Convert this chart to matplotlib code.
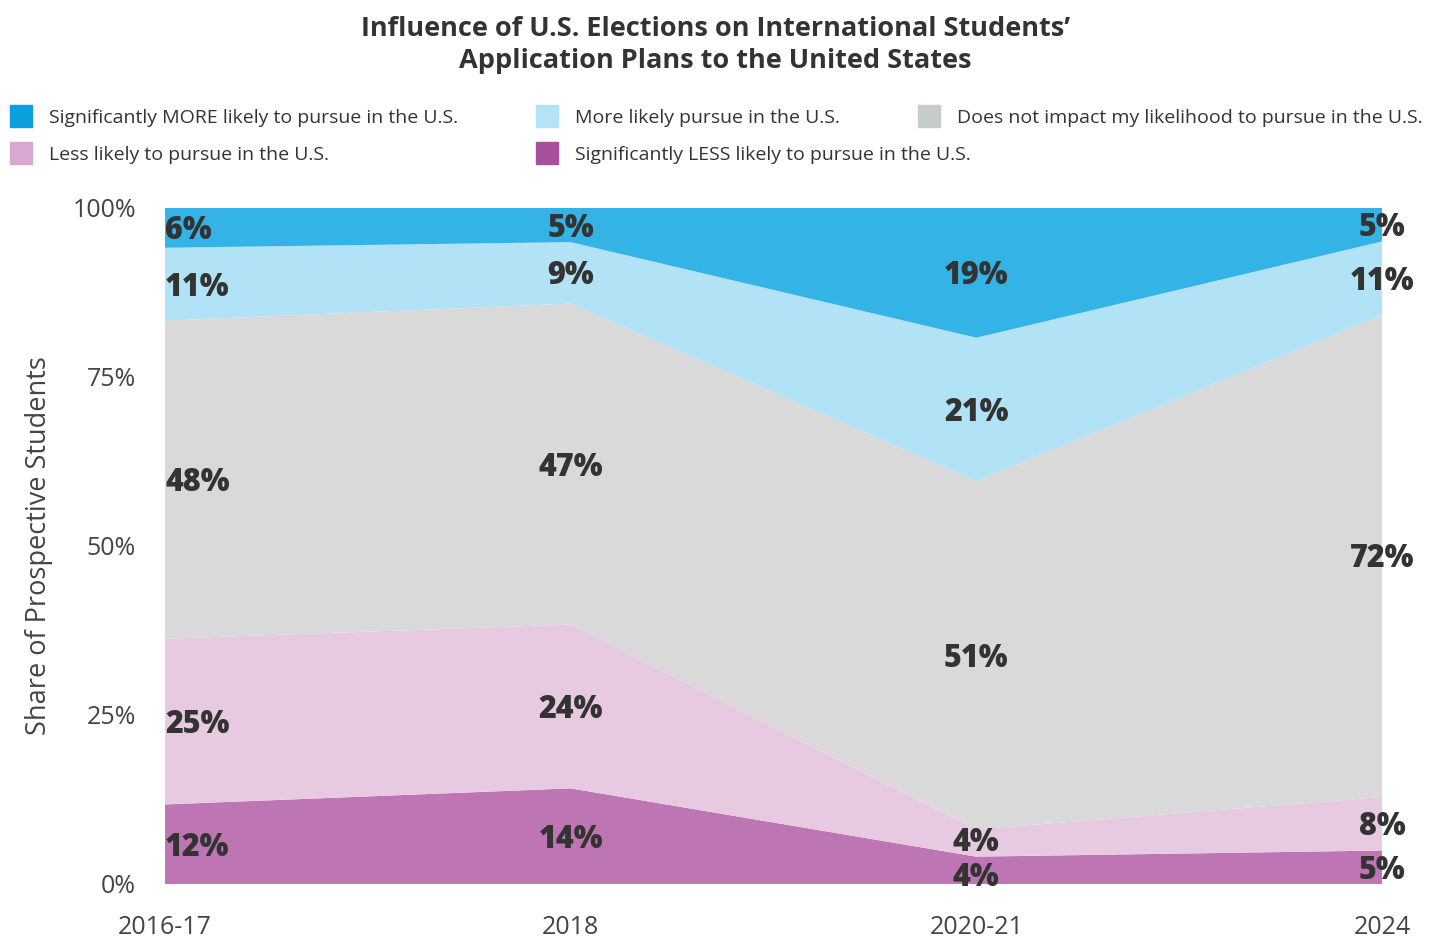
import numpy as np
import matplotlib
matplotlib.use("Agg")
import matplotlib.pyplot as plt
from matplotlib.patches import Rectangle

plt.rcParams["font.family"] = ["Open Sans", "DejaVu Sans"]

years = ["2016-17", "2018", "2020-21", "2024"]
sig_less = [12, 14, 4, 5]
less = [25, 24, 4, 8]
no_impact = [48, 47, 51, 72]
more = [11, 9, 21, 11]
sig_more = [6, 5, 19, 5]

series_names = [
    "Significantly LESS likely to pursue in the U.S.",
    "Less likely to pursue in the U.S.",
    "Does not impact my likelihood to pursue in the U.S.",
    "More likely pursue in the U.S.",
    "Significantly MORE likely to pursue in the U.S.",
]
area_colors = ["#BD75B3", "#E8C9E2", "#D9D9D9", "#B2E2F5", "#33B3E6"]
legend_colors = ["#A8509E", "#D9A8D0", "#C5CCCA", "#B3E3F5", "#0AA0DE"]

values = np.array([sig_less, less, no_impact, more, sig_more], dtype=float)
shares = values / values.sum(axis=0)
x = np.arange(len(years))

fig = plt.figure(figsize=(14.4, 9.39), dpi=100)
ax = fig.add_axes([0.1146, 0.0586, 0.8451, 0.7199])
ax.stackplot(x, shares, colors=area_colors, linewidth=0)
ax.set_xlim(x[0], x[-1])
ax.set_ylim(0, 1)
for s in ax.spines.values():
    s.set_visible(False)

ax.set_xticks(x)
ax.set_xticklabels(years, fontsize=18, color="#444444")
ax.set_yticks([0, 0.25, 0.5, 0.75, 1.0])
ax.set_yticklabels(["0%", "25%", "50%", "75%", "100%"], fontsize=18, color="#444444")
ax.tick_params(axis="x", length=0, pad=22)
ax.tick_params(axis="y", length=0, pad=21)
ax.set_ylabel("Share of Prospective Students", fontsize=19.5, color="#444444", labelpad=14)

# value labels centred in each band, nudged apart where bands are thin
tops = np.cumsum(shares, axis=0)
bottoms = tops - shares
min_gap = 0.052
for j in range(len(years)):
    ymids = list((bottoms[:, j] + tops[:, j]) / 2)
    for i in range(len(ymids) - 1):
        d = ymids[i + 1] - ymids[i]
        if d < min_gap:
            ymids[i] -= (min_gap - d) / 2
            ymids[i + 1] += (min_gap - d) / 2
    for i, ymid in enumerate(ymids):
        ax.annotate(f"{int(values[i, j])}%", (x[j], ymid), xytext=(0, -2.5),
                    textcoords="offset points", fontsize=22, fontweight="heavy",
                    color="#333333", ha="left" if j == 0 else "center", va="center")

fig.text(0.497, 0.983, "Influence of U.S. Elections on International Students’\nApplication Plans to the United States",
         ha="center", va="top", fontsize=19.5, fontweight="bold", color="#333333", linespacing=1.3)

# legend laid out by hand: three columns, two rows
legend_slots = [
    (4, 10, 116), (3, 536, 116), (2, 918, 116),
    (1, 10, 153), (0, 536, 153),
]
W, H = 1440, 939
for idx, px, py in legend_slots:
    fig.patches.append(Rectangle((px / W, (H - py - 11) / H), 22 / W, 22 / H,
                                 transform=fig.transFigure, color=legend_colors[idx]))
    fig.text((px + 39) / W, (H - py - 2) / H, series_names[idx], fontsize=14,
             color="#333333", ha="left", va="center")

fig.savefig("out.png", dpi=100, facecolor="white")
